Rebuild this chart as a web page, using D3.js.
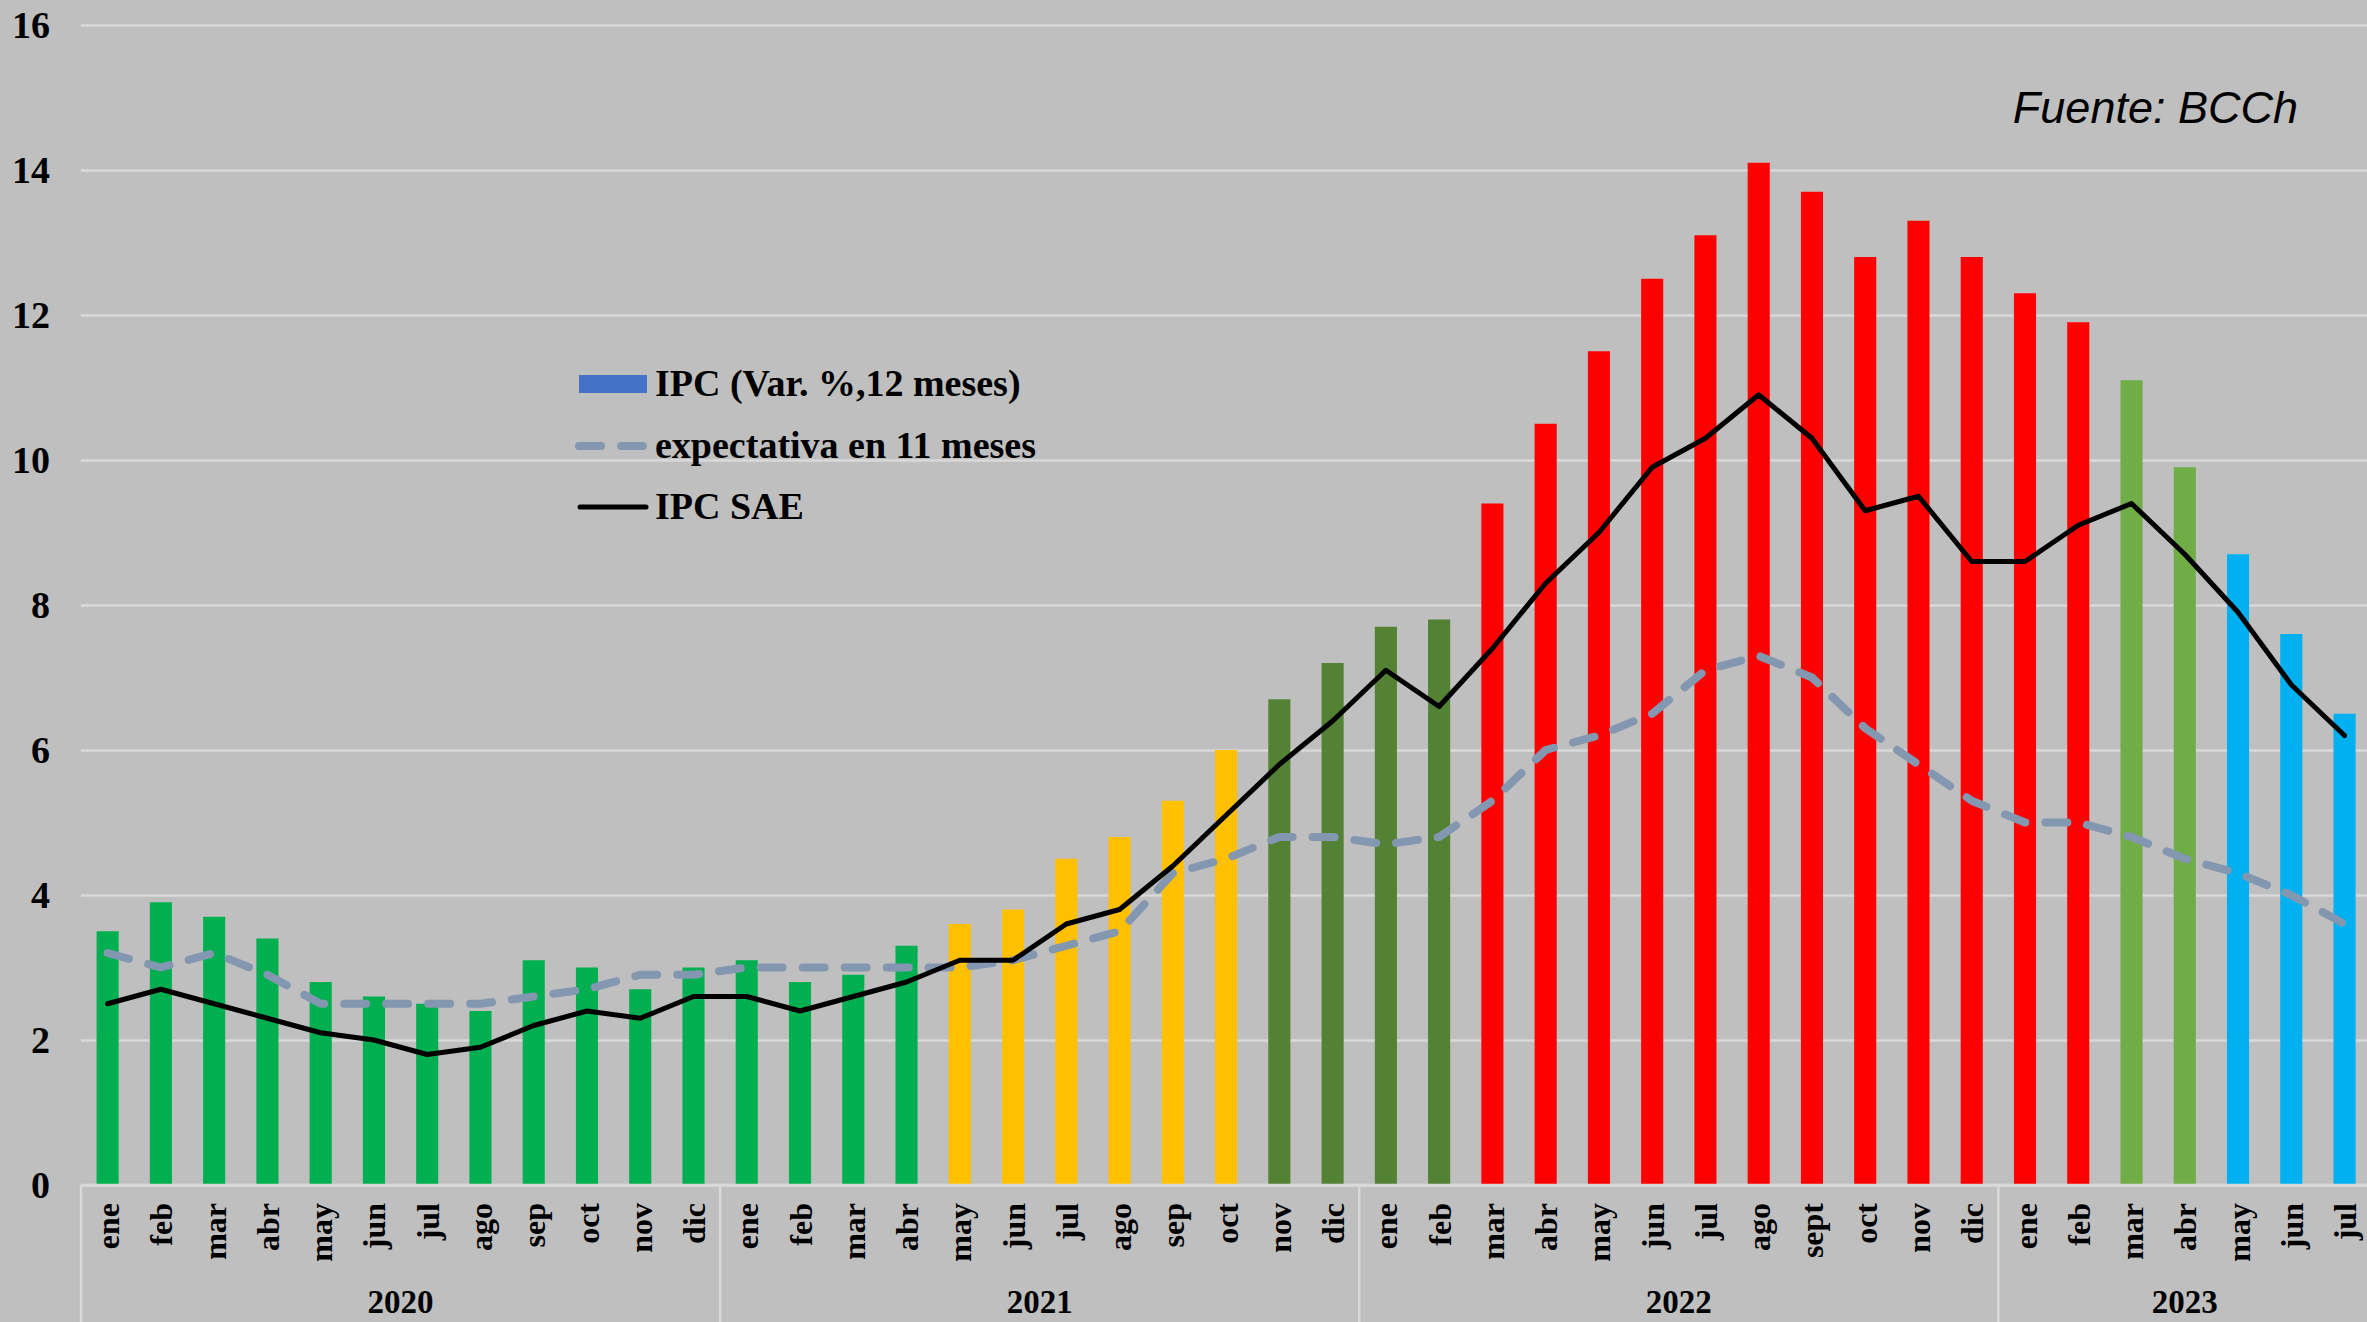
<!DOCTYPE html>
<html>
<head>
<meta charset="utf-8">
<script src="https://cdn.jsdelivr.net/npm/d3@7/dist/d3.min.js"></script>
<style>
  html, body { margin: 0; padding: 0; background: #BFBFBF; overflow: hidden; }
  svg { display: block; }
</style>
</head>
<body>
<svg id="chart" width="2367" height="1322"></svg>
<script>
// ---- Data ----
const years = ["2020", "2021", "2022", "2023"];
const monthsPerYear = [12, 12, 12, 7];
const monthLabels = [
  "ene","feb","mar","abr","may","jun","jul","ago","sep","oct","nov","dic",
  "ene","feb","mar","abr","may","jun","jul","ago","sep","oct","nov","dic",
  "ene","feb","mar","abr","may","jun","jul","ago","sept","oct","nov","dic",
  "ene","feb","mar","abr","may","jun","jul"
];
const ipc = [
  3.5, 3.9, 3.7, 3.4, 2.8, 2.6, 2.5, 2.4, 3.1, 3.0, 2.7, 3.0,
  3.1, 2.8, 2.9, 3.3, 3.6, 3.8, 4.5, 4.8, 5.3, 6.0, 6.7, 7.2,
  7.7, 7.8, 9.4, 10.5, 11.5, 12.5, 13.1, 14.1, 13.7, 12.8, 13.3, 12.8,
  12.3, 11.9, 11.1, 9.9, 8.7, 7.6, 6.5
];
const expectativa = [
  3.2, 3.0, 3.2, 2.9, 2.5, 2.5, 2.5, 2.5, 2.6, 2.7, 2.9, 2.9,
  3.0, 3.0, 3.0, 3.0, 3.0, 3.1, 3.3, 3.5, 4.3, 4.5, 4.8, 4.8,
  4.7, 4.8, 5.3, 6.0, 6.2, 6.5, 7.1, 7.3, 7.0, 6.3, 5.8, 5.3,
  5.0, 5.0, 4.8, 4.5, 4.3, 4.0, 3.6
];
const ipcSae = [
  2.5, 2.7, 2.5, 2.3, 2.1, 2.0, 1.8, 1.9, 2.2, 2.4, 2.3, 2.6,
  2.6, 2.4, 2.6, 2.8, 3.1, 3.1, 3.6, 3.8, 4.4, 5.1, 5.8, 6.4,
  7.1, 6.6, 7.4, 8.3, 9.0, 9.9, 10.3, 10.9, 10.3, 9.3, 9.5, 8.6,
  8.6, 9.1, 9.4, 8.7, 7.9, 6.9, 6.2
];
const yTicks = [0, 2, 4, 6, 8, 10, 12, 14, 16];
const legendLabels = ["IPC (Var. %,12 meses)", "expectativa en 11 meses", "IPC SAE"];
const sourceText = "Fuente: BCCh";

// ---- Style (runs of bar colours, in month order) ----
const colorRuns = [
  [16, "#00B050"], [6, "#FFC000"], [4, "#548235"],
  [12, "#FF0000"], [2, "#70AD47"], [3, "#00B0F0"]
];
const barColors = [];
colorRuns.forEach(([n, c]) => { for (let k = 0; k < n; k++) barColors.push(c); });

const serif = "'Liberation Serif', 'Times New Roman', serif";
const W = 2367, H = 1322;
const plotLeft = 81, plotTop = 25, plotBottom = 1185;
const step = 53.26;
const plotRight = plotLeft + step * ipc.length;

const svg = d3.select("#chart");
svg.append("rect").attr("width", W).attr("height", H).attr("fill", "#BFBFBF");

const idx = d3.range(ipc.length);
const x = d3.scaleBand().domain(idx).range([plotLeft, plotRight])
  .paddingInner(0.585).paddingOuter(0.2925);
const y = d3.scaleLinear().domain([0, 16]).range([plotBottom, plotTop]);

// Gridlines + y labels
const yAxis = svg.append("g")
  .attr("transform", `translate(${plotLeft},0)`)
  .call(d3.axisLeft(y).tickValues(yTicks).tickSize(-(W - plotLeft)).tickPadding(31).tickFormat(d3.format("d")));
yAxis.select(".domain").remove();
yAxis.selectAll(".tick line").attr("stroke", "#D9D9D9").attr("stroke-width", 2.5);
yAxis.selectAll(".tick text")
  .attr("font-family", serif).attr("font-weight", "bold").attr("font-size", 38)
  .attr("fill", "#000").attr("dy", "0.34em");

// Bars
svg.append("g").selectAll("rect").data(idx).join("rect")
  .attr("x", i => x(i))
  .attr("width", x.bandwidth())
  .attr("y", i => y(ipc[i]))
  .attr("height", i => y(0) - y(ipc[i]))
  .attr("fill", i => barColors[i]);

// Axis line
svg.append("line").attr("x1", plotLeft).attr("x2", W).attr("y1", plotBottom).attr("y2", plotBottom)
  .attr("stroke", "#D9D9D9").attr("stroke-width", 2.5);

// Month labels via axis
const xAxis = svg.append("g")
  .attr("transform", `translate(0,${plotBottom})`)
  .call(d3.axisBottom(x).tickSize(0).tickFormat(i => monthLabels[i]));
xAxis.select(".domain").remove();
xAxis.selectAll(".tick text")
  .attr("font-family", serif).attr("font-weight", "bold").attr("font-size", 32)
  .attr("fill", "#000")
  .attr("text-anchor", "end")
  .attr("transform", "rotate(-90)")
  .attr("x", -18).attr("y", 0).attr("dy", "0.36em");

// Year separators and labels
let start = 0;
const bounds = [0];
monthsPerYear.forEach(n => { start += n; bounds.push(start); });
const sepX = i => (i < ipc.length ? x(i) - x.step() * x.paddingInner() / 2 : plotRight);
bounds.slice(0, -1).forEach(b => {
  svg.append("line").attr("x1", sepX(b)).attr("x2", sepX(b))
    .attr("y1", plotBottom).attr("y2", H)
    .attr("stroke", "#D9D9D9").attr("stroke-width", 2.5);
});
years.forEach((yr, k) => {
  const x0 = sepX(bounds[k]);
  const x1 = Math.min(sepX(bounds[k + 1]), plotRight);
  svg.append("text").attr("x", (x0 + x1) / 2).attr("y", 1313)
    .attr("text-anchor", "middle")
    .attr("font-family", serif).attr("font-weight", "bold").attr("font-size", 33)
    .attr("fill", "#000").text(yr);
});

// Lines
const cx = i => x(i) + x.bandwidth() / 2;
const lineExp = d3.line().x((d, i) => cx(i)).y(d => y(d));
svg.append("path").datum(expectativa).attr("d", lineExp)
  .attr("fill", "none").attr("stroke", "#8497B0").attr("stroke-width", 8)
  .attr("stroke-dasharray", "22 20").attr("stroke-linecap", "round").attr("stroke-linejoin", "round");
svg.append("path").datum(ipcSae).attr("d", lineExp)
  .attr("fill", "none").attr("stroke", "#000").attr("stroke-width", 5)
  .attr("stroke-linecap", "round").attr("stroke-linejoin", "round");

// Legend
const lg = svg.append("g");
const rowY = [384, 446, 507];
lg.append("rect").attr("x", 579).attr("y", rowY[0] - 9).attr("width", 68).attr("height", 18).attr("fill", "#4472C4");
lg.append("line").attr("x1", 579).attr("x2", 644).attr("y1", rowY[1]).attr("y2", rowY[1])
  .attr("stroke", "#8497B0").attr("stroke-width", 8).attr("stroke-linecap", "round").attr("stroke-dasharray", "22 20");
lg.append("line").attr("x1", 580).attr("x2", 646).attr("y1", rowY[2]).attr("y2", rowY[2])
  .attr("stroke", "#000").attr("stroke-width", 5).attr("stroke-linecap", "round");
legendLabels.forEach((t, k) => {
  lg.append("text").attr("x", 655).attr("y", rowY[k] + 12)
    .attr("font-family", serif).attr("font-weight", "bold").attr("font-size", 38)
    .attr("fill", "#000").text(t);
});

// Source
svg.append("text").attr("x", 2298).attr("y", 123).attr("text-anchor", "end")
  .attr("font-family", "'Liberation Sans', Arial, sans-serif").attr("font-style", "italic")
  .attr("font-size", 45).attr("fill", "#000").text(sourceText);
</script>
</body>
</html>
